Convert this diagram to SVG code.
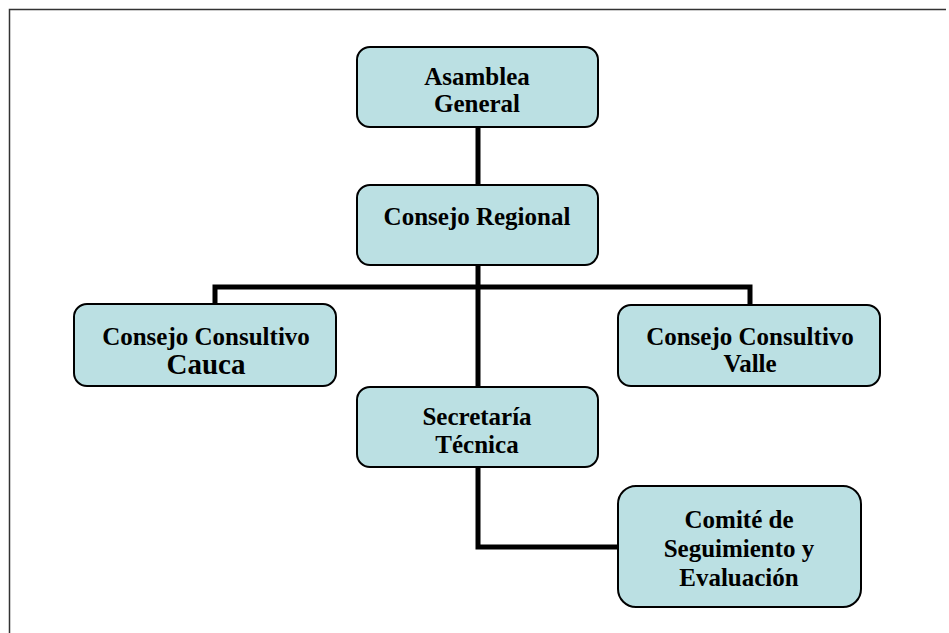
<svg xmlns="http://www.w3.org/2000/svg" width="949" height="633" viewBox="0 0 949 633">
<style>
.box{fill:#BBE0E3;stroke:#000;stroke-width:2}
.t{font-family:"Liberation Serif","Tinos","Times New Roman","DejaVu Serif",serif;font-weight:bold;font-size:25px;text-anchor:middle;fill:#000}
.big{font-size:29px}
.c{fill:none;stroke:#000;stroke-width:5}
</style>
<rect width="949" height="633" fill="#fff"/>
<path d="M9.5,633 V9.5 H946" fill="none" stroke="#333" stroke-width="1.5"/>
<g id="connectors">
<path class="c" d="M478,127 V185"/>
<path class="c" d="M478,265 V387"/>
<path class="c" d="M215,304 V287 H750 V305"/>
<path class="c" d="M478,467 V547 H618"/>
</g>
<g id="asamblea">
<rect class="box" x="357" y="47" width="241" height="80" rx="13"/>
<text class="t" x="477" y="85">Asamblea</text>
<text class="t" x="477" y="112">General</text>
</g>
<g id="regional">
<rect class="box" x="357" y="185" width="241" height="80" rx="13"/>
<text class="t" x="477" y="225">Consejo Regional</text>
</g>
<g id="cauca">
<rect class="box" x="74" y="304" width="262" height="82" rx="13"/>
<text class="t" x="206" y="345">Consejo Consultivo</text>
<text class="t big" x="206" y="374">Cauca</text>
</g>
<g id="valle">
<rect class="box" x="618" y="305" width="262" height="81" rx="13"/>
<text class="t" x="750" y="345">Consejo Consultivo</text>
<text class="t" x="750" y="372">Valle</text>
</g>
<g id="secretaria">
<rect class="box" x="357" y="387" width="241" height="80" rx="13"/>
<text class="t" x="477" y="425">Secretaría</text>
<text class="t" x="477" y="453">Técnica</text>
</g>
<g id="comite">
<rect class="box" x="618" y="486" width="243" height="121" rx="18"/>
<text class="t" x="739" y="528">Comité de</text>
<text class="t" x="739" y="557">Seguimiento y</text>
<text class="t" x="739" y="586">Evaluación</text>
</g>
</svg>
